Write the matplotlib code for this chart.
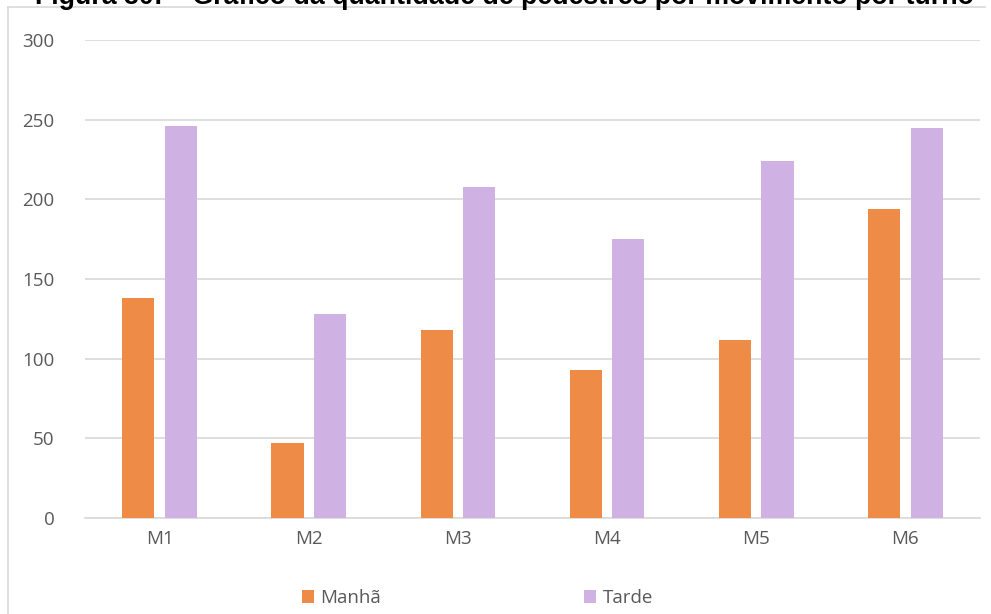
import matplotlib.pyplot as plt
import numpy as np

categories = ['M1', 'M2', 'M3', 'M4', 'M5', 'M6']
manha = [138, 47, 118, 93, 112, 194]
tarde = [246, 128, 208, 175, 224, 245]
yticks = [0, 50, 100, 150, 200, 250, 300]

plt.rcParams['font.family'] = ['Open Sans', 'DejaVu Sans']

fig = plt.figure(figsize=(9.91, 6.14), dpi=100)
ax = fig.add_axes([85/991, 96/614, 895/991, 478/614])

x = np.arange(len(categories))
w = 0.215
ax.bar(x - w/2 - 0.035, manha, width=w, color='#ed8b47', label='Manhã', zorder=3)
ax.bar(x + w/2 + 0.035, tarde, width=w, color='#cfb1e4', label='Tarde', zorder=3)

ax.set_xlim(-0.5, len(categories) - 0.5)
ax.set_ylim(0, 300)
ax.set_yticks(yticks)
ax.set_xticks(x)
ax.set_xticklabels(categories)
ax.yaxis.grid(True, color='#d9d9d9', linewidth=1.2, zorder=0)
for s in ['top', 'right', 'left']:
    ax.spines[s].set_visible(False)
ax.spines['bottom'].set_color('#d9d9d9')
ax.spines['bottom'].set_linewidth(1.2)
ax.tick_params(axis='both', length=0, colors='#595959', labelsize=13.5)
ax.tick_params(axis='y', pad=22)
ax.tick_params(axis='x', pad=9)

ax.legend(loc='center left', bbox_to_anchor=(200/895, -80/478), ncol=2, frameon=False,
          fontsize=13.5, labelcolor='#595959', handlelength=0.65, handleheight=0.65,
          handletextpad=0.35, columnspacing=10.8)

# chart border
fig.add_artist(plt.Line2D([8/991, 8/991], [0, 1 - 7/614], color='#d9d9d9', lw=1.2))
fig.add_artist(plt.Line2D([8/991, 985/991], [1 - 7/614, 1 - 7/614], color='#d9d9d9', lw=1.2))

# title (cropped at the top edge, as in the source)
fig.text(504/991, 1 - 4/614, 'Figura 30: – Gráfico da quantidade de pedestres por movimento por turno',
         ha='center', va='baseline', fontsize=19.3, fontweight='bold',
         family=['Liberation Sans', 'DejaVu Sans'])

plt.savefig('out.png', dpi=100)
